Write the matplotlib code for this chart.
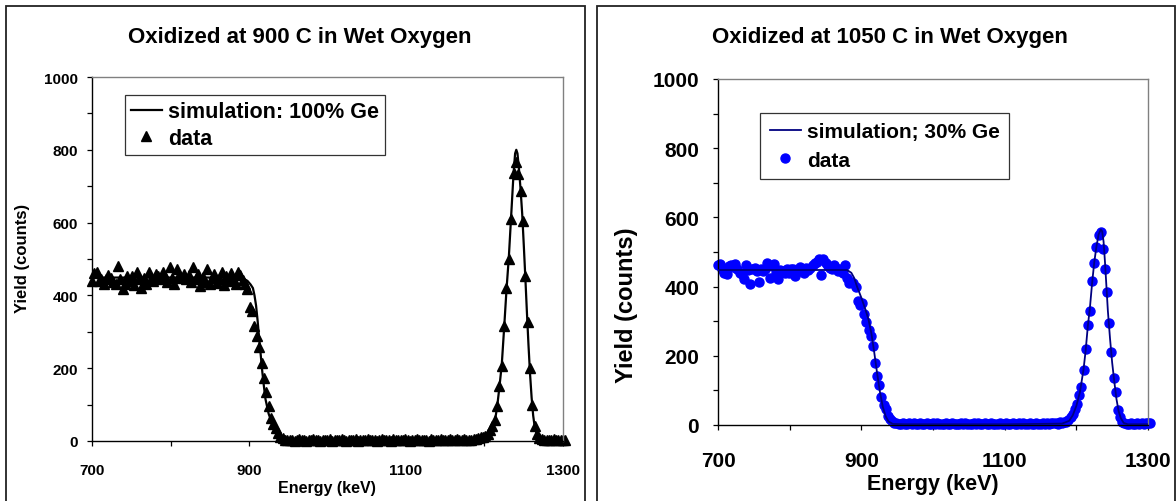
import numpy as np
import matplotlib
matplotlib.use("Agg")
import matplotlib.pyplot as plt
from matplotlib.patches import Rectangle
from matplotlib.ticker import MultipleLocator, FuncFormatter

plt.rcParams['font.family'] = ['Liberation Sans', 'DejaVu Sans']
plt.rcParams['font.weight'] = 'bold'

# ---------------------------------------------------------------- data
E_START = 700.0
E_STEP = 3.0   # keV per channel

# measured yield, 900 C sample (channels from 700 keV, 3 keV apart)
yield_900 = [
    440, 462, 463, 440, 446, 432, 444, 455, 449, 436,
    432, 481, 445, 418, 430, 453, 440, 453, 428, 463,
    446, 420, 449, 430, 463, 446, 440, 458, 452, 445,
    463, 450, 438, 477, 448, 431, 472, 455, 449, 460,
    444, 455, 438, 477, 445, 460, 427, 450, 436, 472,
    430, 449, 458, 435, 446, 463, 428, 452, 440, 462,
    446, 430, 463, 455, 442, 430, 417, 367, 358, 317,
    289, 257, 214, 172, 134, 95, 62, 48, 35, 22,
    12, 7, 4, 3, 2, 4, 1, 3, 5, 2,
    3, 1, 4, 2, 5, 2, 3, 1, 4, 3,
    2, 5, 1, 3, 4, 2, 6, 3, 1, 4,
    3, 2, 5, 1, 4, 3, 2, 6, 2, 3,
    4, 1, 3, 5, 2, 4, 3, 1, 5, 2,
    3, 4, 2, 6, 3, 1, 4, 2, 5, 3,
    2, 4, 3, 1, 5, 3, 2, 4, 6, 3,
    4, 2, 5, 3, 2, 6, 3, 4, 5, 3,
    3, 4, 5, 6, 8, 10, 12, 15, 20, 30,
    40, 58, 96, 150, 205, 315, 420, 500, 610, 735,
    766, 733, 688, 605, 453, 327, 200, 100, 42, 18,
    8, 5, 3, 4, 2, 3, 5, 2, 4, 3,
    2, 4,
]

# simulated spectrum, 100% Ge
sim_900_energy = [700, 885, 893, 898, 902, 905, 907, 909, 911, 913, 915, 917,
                  919, 921, 925, 929, 933, 937, 942, 952, 1000, 1100, 1180,
                  1190, 1200, 1205, 1210, 1213, 1216, 1219, 1222, 1225, 1228,
                  1231, 1234, 1237, 1239, 1240.5, 1242, 1244, 1246, 1248, 1250,
                  1252, 1254, 1256, 1258, 1260, 1262, 1264, 1267, 1272, 1280, 1305]
sim_900_yield = [449, 449, 446, 440, 430, 420, 400, 372, 330, 280, 235, 189,
                 150, 115, 75, 51, 30, 15, 7, 3, 2, 2, 3,
                 6, 12, 20, 35, 52, 92, 148, 210, 310, 415,
                 505, 620, 735, 790, 800, 790, 745, 690, 625, 540,
                 450, 355, 265, 185, 120, 70, 38, 16, 4, 1, 1]

# measured yield, 1050 C sample
yield_1050 = [
    462, 466, 452, 440, 435, 460, 462, 458, 464, 450,
    440, 435, 423, 462, 448, 408, 452, 454, 444, 413,
    450, 446, 452, 467, 426, 460, 464, 440, 421, 448,
    445, 438, 450, 440, 452, 450, 432, 445, 458, 450,
    440, 455, 448, 455, 462, 467, 470, 479, 433, 481,
    468, 460, 455, 450, 462, 455, 445, 452, 440, 462,
    426, 411, 412, 410, 400, 358, 348, 353, 320, 298,
    274, 257, 227, 179, 142, 115, 80, 58, 47, 27,
    17, 12, 7, 5, 4, 3, 5, 2, 4, 6,
    3, 5, 2, 4, 6, 3, 2, 5, 4, 3,
    5, 3, 6, 2, 4, 3, 5, 4, 2, 6,
    3, 4, 2, 5, 3, 6, 4, 2, 3, 5,
    4, 6, 3, 2, 5, 4, 3, 6, 2, 4,
    3, 5, 4, 2, 6, 3, 4, 5, 3, 2,
    5, 3, 6, 4, 3, 5, 2, 4, 6, 3,
    4, 6, 3, 5, 4, 7, 5, 6, 4, 8,
    6, 8, 10, 14, 22, 32, 46, 60, 86, 110,
    160, 219, 288, 329, 416, 469, 514, 550, 558, 509,
    452, 384, 296, 211, 137, 94, 44, 22, 10, 5,
    4, 3, 5, 3, 4, 6, 3, 5, 4, 7,
    5, 6,
]

# simulated spectrum, 30% Ge
sim_1050_energy = [700, 880, 886, 890, 894, 900, 906, 910, 914, 918, 922, 926,
                   930, 934, 938, 944, 960, 1100, 1180, 1190, 1195, 1200, 1205,
                   1210, 1213, 1216, 1219, 1222, 1225, 1228, 1231, 1234, 1236,
                   1238, 1240, 1242, 1244, 1247, 1250, 1253, 1256, 1259, 1262,
                   1266, 1272, 1300]
sim_1050_yield = [448, 448, 440, 425, 400, 368, 332, 305, 265, 210, 150, 95,
                  52, 25, 10, 3, 2, 2, 4, 12, 28, 55, 95,
                  160, 215, 285, 340, 410, 470, 515, 550, 565, 560,
                  530, 470, 400, 330, 250, 180, 125, 75, 40, 20,
                  6, 2, 2]

x_ticks = [700, 900, 1100, 1300]

# ---------------------------------------------------------------- figure
W, H = 1176, 502
fig = plt.figure(figsize=(W / 100, H / 100), dpi=100)


def fx(px):
    return px / W


def fy(py):
    return 1 - py / H


# outer frames around each panel
for x0, x1 in [(6, 585), (597, 1175)]:
    fig.add_artist(Rectangle((fx(x0), fy(560)), fx(x1) - fx(x0), fy(7) - fy(560),
                             transform=fig.transFigure, fill=False,
                             edgecolor='#222222', linewidth=1.3))


def style_axes(ax, tick_fs, xpad, ypad):
    ax.set_xlim(700, 1300)
    ax.set_ylim(0, 1000)
    ax.xaxis.set_major_locator(MultipleLocator(100))
    ax.yaxis.set_major_locator(MultipleLocator(100))
    ax.xaxis.set_major_formatter(FuncFormatter(
        lambda v, p: f"{int(round(v))}" if int(round(v)) in x_ticks else ""))
    ax.yaxis.set_major_formatter(FuncFormatter(
        lambda v, p: f"{int(round(v))}" if int(round(v)) % 200 == 0 else ""))
    ax.tick_params(axis='both', direction='out', length=3.5, width=0.9,
                   color='black', labelsize=tick_fs)
    ax.tick_params(axis='x', pad=xpad)
    ax.tick_params(axis='y', pad=ypad)
    for lbl in ax.get_xticklabels() + ax.get_yticklabels():
        lbl.set_fontweight('bold')
    for side in ('left', 'bottom'):
        ax.spines[side].set_color('black')
        ax.spines[side].set_linewidth(1.0)
    for side in ('top', 'right'):
        ax.spines[side].set_color('#808080')
        ax.spines[side].set_linewidth(1.0)


# ---------------- left panel: 900 C
ax1 = fig.add_axes([fx(92), fy(442), fx(563) - fx(92), fy(78) - fy(442)])
e900 = E_START + E_STEP * np.arange(len(yield_900))
ax1.plot(sim_900_energy, sim_900_yield, color='black', lw=1.6,
         label='simulation: 100% Ge', zorder=3)
ax1.plot(e900, yield_900, linestyle='none', marker='^', ms=6.5,
         color='black', label='data', zorder=2, clip_on=False)
style_axes(ax1, 11, 12.5, 6.5)
leg1 = ax1.legend(loc='upper left', bbox_to_anchor=(0.070, 0.951),
                  borderaxespad=0, frameon=True, fancybox=False,
                  prop={'weight': 'bold', 'size': 15.5},
                  handlelength=1.4, handletextpad=0.3, borderpad=0.3,
                  labelspacing=0.25)
leg1.get_frame().set_edgecolor('black')
leg1.get_frame().set_linewidth(0.9)

fig.text(fx(300), fy(38), 'Oxidized at 900 C in Wet Oxygen', ha='center',
         va='center', fontsize=16, fontweight='bold')
fig.text(fx(327), fy(489), 'Energy (keV)', ha='center', va='center',
         fontsize=11.5, fontweight='bold')
fig.text(fx(23), fy(258), 'Yield (counts)', ha='center', va='center',
         rotation=90, fontsize=12, fontweight='bold')

# ---------------- right panel: 1050 C
ax2 = fig.add_axes([fx(718), fy(426), fx(1148) - fx(718), fy(80) - fy(426)])
e1050 = E_START + E_STEP * np.arange(len(yield_1050))
ax2.plot(sim_1050_energy, sim_1050_yield, color='#000080', lw=1.3,
         label='simulation; 30% Ge', zorder=3)
ax2.plot(e1050, yield_1050, linestyle='none', marker='o', ms=6.5,
         color='#0000FF', label='data', zorder=2, clip_on=False)
style_axes(ax2, 15, 15.5, 10)
leg2 = ax2.legend(loc='upper left', bbox_to_anchor=(0.098, 0.902),
                  borderaxespad=0, frameon=True, fancybox=False,
                  prop={'weight': 'bold', 'size': 15},
                  handlelength=1.5, handletextpad=0.3, borderpad=0.45,
                  labelspacing=0.45)
leg2.get_frame().set_edgecolor('black')
leg2.get_frame().set_linewidth(0.9)

fig.text(fx(890), fy(38), 'Oxidized at 1050 C in Wet Oxygen', ha='center',
         va='center', fontsize=16, fontweight='bold')
fig.text(fx(933), fy(485), 'Energy (keV)', ha='center', va='center',
         fontsize=15.5, fontweight='bold')
fig.text(fx(627), fy(305), 'Yield (counts)', ha='center', va='center',
         rotation=90, fontsize=17, fontweight='bold')

fig.savefig('out.png', dpi=100)
